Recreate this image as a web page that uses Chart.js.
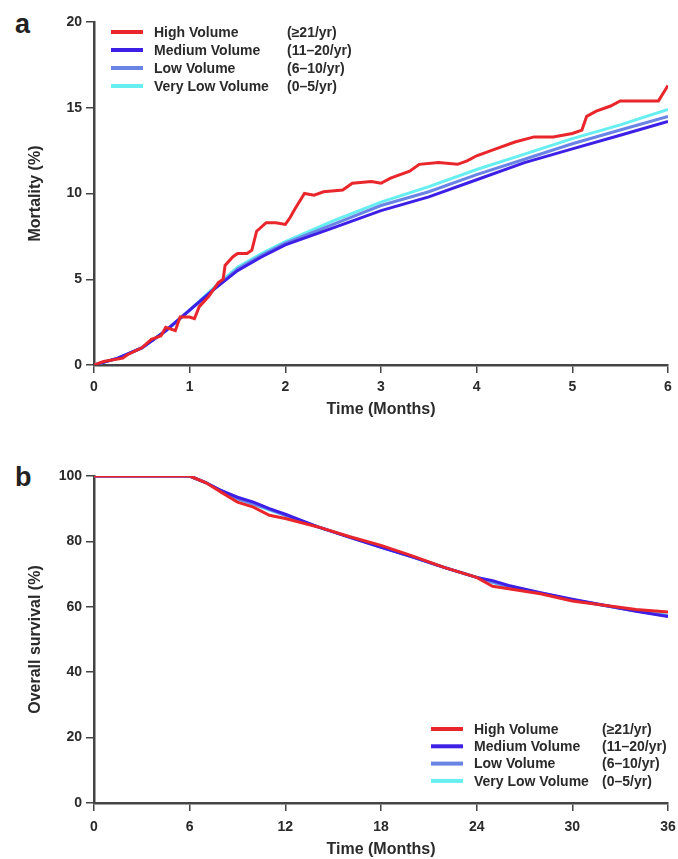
<!DOCTYPE html>
<html>
<head>
<meta charset="utf-8">
<script src="https://cdn.jsdelivr.net/npm/chart.js@4.4.1/dist/chart.umd.min.js"></script>
<style>
  html, body { margin: 0; padding: 0; background: #fff; }
  body { width: 678px; height: 859px; position: relative; overflow: hidden; font-family: "Liberation Sans", Arial, sans-serif; }
  .panel { position: absolute; left: 0; width: 678px; }
  .tag { position: absolute; font-weight: bold; font-size: 27px; line-height: 28px; color: #222; }
</style>
</head>
<body>
<div class="tag" style="left:15px;top:10px">a</div>
<div class="tag" style="left:15px;top:463px">b</div>
<div class="panel" style="top:0;height:420px"><canvas id="chartA"></canvas></div>
<div class="panel" style="top:440px;height:419px"><canvas id="chartB"></canvas></div>
<script>
/* ---------- data ---------- */
const seriesNames = ['High Volume', 'Medium Volume', 'Low Volume', 'Very Low Volume'];
const seriesRanges = ['(\u226521/yr)', '(11\u201320/yr)', '(6\u201310/yr)', '(0\u20135/yr)'];
const seriesColors = ['#e8262b', '#3d1fe6', '#6a84e6', '#66eef0'];

// panel a: cumulative mortality (%) vs months
const mortHighX = [0, 0.1, 0.3, 0.35, 0.5, 0.6, 0.7, 0.75, 0.85, 0.9, 1.0, 1.05, 1.1, 1.2, 1.3, 1.35, 1.37, 1.45, 1.5, 1.6, 1.65, 1.7, 1.8, 1.9, 2.0, 2.05, 2.1, 2.2, 2.3, 2.4, 2.6, 2.7, 2.9, 3.0, 3.1, 3.3, 3.4, 3.6, 3.8, 3.9, 4.0, 4.2, 4.4, 4.6, 4.8, 5.0, 5.1, 5.15, 5.25, 5.4, 5.5, 5.9, 6.0];
const mortHighY = [0, 0.2, 0.4, 0.6, 1.0, 1.5, 1.7, 2.2, 2.0, 2.8, 2.8, 2.7, 3.4, 4.0, 4.8, 5.0, 5.8, 6.3, 6.5, 6.5, 6.7, 7.8, 8.3, 8.3, 8.2, 8.6, 9.1, 10.0, 9.9, 10.1, 10.2, 10.6, 10.7, 10.6, 10.9, 11.3, 11.7, 11.8, 11.7, 11.9, 12.2, 12.6, 13.0, 13.3, 13.3, 13.5, 13.7, 14.5, 14.8, 15.1, 15.4, 15.4, 16.3];
const mortX = [0, 0.25, 0.5, 0.75, 1.0, 1.25, 1.5, 1.75, 2.0, 2.5, 3.0, 3.5, 4.0, 4.5, 5.0, 5.5, 6.0];
const mortMedium  = [0, 0.4, 1.0, 2.0, 3.2, 4.4, 5.5, 6.3, 7.0, 8.0, 9.0, 9.8, 10.8, 11.8, 12.6, 13.4, 14.2];
const mortLow     = [0, 0.4, 1.0, 2.0, 3.2, 4.4, 5.6, 6.4, 7.1, 8.2, 9.3, 10.1, 11.1, 12.0, 12.9, 13.7, 14.5];
const mortVeryLow = [0, 0.4, 1.0, 2.0, 3.2, 4.5, 5.7, 6.5, 7.2, 8.4, 9.5, 10.4, 11.4, 12.3, 13.2, 14.0, 14.9];

// panel b: overall survival (%) vs months
const survX = [0, 6, 7, 8, 9, 10, 11, 12, 14, 16, 18, 20, 22, 24, 25, 26, 28, 30, 32, 34, 36];
const survHigh    = [100, 100, 98, 95, 92, 90.5, 88, 87, 84.5, 81.5, 78.8, 75.5, 72, 69, 66.3, 65.5, 64, 61.8, 60.5, 59.2, 58.4];
const survMedium  = [100, 100, 98, 95.5, 93.5, 92, 90, 88.3, 84.5, 81.3, 78.2, 75.2, 72, 69, 68, 66.5, 64.3, 62.3, 60.5, 58.6, 57.0];
const survLow     = [100, 100, 98, 95.5, 93, 91.5, 89.8, 88, 84.5, 81.3, 78.3, 75.2, 72, 69, 67.6, 66.2, 64.2, 62.2, 60.4, 58.7, 57.2];
const survVeryLow = [100, 100, 98, 95.5, 93, 91.3, 89.6, 88, 84.5, 81.4, 78.4, 75.3, 72, 69, 67.4, 66, 64.1, 62.1, 60.4, 58.8, 57.4];

const mortTicks = { min: 0, max: 20, step: 5 };
const survTicks = { min: 0, max: 100, step: 20 };

/* ---------- helpers ---------- */
const FONT = '"Liberation Sans", Arial, sans-serif';
const AXIS = '#444';
const TEXT = '#2a2a2a';

function pts(xs, ys) { return xs.map((x, i) => ({ x, y: ys[i] })); }

function lineSet(i, data) {
  return {
    label: seriesNames[i],
    data,
    borderColor: seriesColors[i],
    borderWidth: 3,
    pointRadius: 0,
    tension: 0,
    fill: false,
    order: i
  };
}

// two-column legend drawn inside the plot
const sideLegend = {
  id: 'sideLegend',
  afterDraw(chart, args, opts) {
    const ctx = chart.ctx;
    ctx.save();
    ctx.font = 'bold 14px ' + FONT;
    ctx.textBaseline = 'middle';
    chart.data.datasets.forEach((ds, i) => {
      const y = opts.y + i * opts.row;
      ctx.strokeStyle = ds.borderColor;
      ctx.lineWidth = 4;
      ctx.beginPath();
      ctx.moveTo(opts.x, y);
      ctx.lineTo(opts.x + 32, y);
      ctx.stroke();
      ctx.fillStyle = TEXT;
      ctx.fillText(seriesNames[i], opts.x + 43, y + 1);
      ctx.fillText(seriesRanges[i], opts.x + opts.col, y + 1);
    });
    ctx.restore();
  }
};

function axisX(max, step, h, pad) {
  return {
    type: 'linear', min: 0, max,
    ticks: { stepSize: step, color: TEXT, font: { family: FONT, size: 14, weight: 'bold' }, padding: pad },
    grid: { drawOnChartArea: false, drawTicks: true, tickLength: 8, color: AXIS, lineWidth: 1.5 },
    border: { display: true, color: AXIS, width: 2.5 },
    title: { display: true, text: 'Time (Months)', color: TEXT, font: { family: FONT, size: 16, weight: 'bold' }, padding: 0 },
    // fixed height; let end labels overhang so the plot spans the same width in both panels
    afterFit: s => { s.height = h; s.paddingLeft = 0; s.paddingRight = 0; }
  };
}

function axisY(title, t) {
  return {
    min: t.min, max: t.max,
    ticks: { stepSize: t.step, color: TEXT, font: { family: FONT, size: 14, weight: 'bold' }, padding: 4 },
    grid: { drawOnChartArea: false, drawTicks: true, tickLength: 8, color: AXIS, lineWidth: 1.5 },
    border: { display: true, color: AXIS, width: 2.5 },
    title: { display: true, text: title, color: TEXT, font: { family: FONT, size: 16, weight: 'bold' }, padding: 0 },
    afterFit: s => { s.width = 68; s.paddingTop = 0; s.paddingBottom = 0; }
  };
}

function makeChart(id, datasets, xAxis, yAxis, pad, legendPos) {
  return new Chart(document.getElementById(id), {
    type: 'line',
    data: { datasets },
    options: {
      responsive: true,
      maintainAspectRatio: false,
      animation: false,
      layout: { padding: pad },
      plugins: { legend: { display: false }, tooltip: { enabled: false }, sideLegend: legendPos },
      scales: { x: xAxis, y: yAxis }
    },
    plugins: [sideLegend]
  });
}

/* ---------- charts ---------- */
makeChart('chartA', [
  lineSet(0, pts(mortHighX, mortHighY)),
  lineSet(1, pts(mortX, mortMedium)),
  lineSet(2, pts(mortX, mortLow)),
  lineSet(3, pts(mortX, mortVeryLow))
],
  axisX(6, 1, 54, 6),
  axisY('Mortality (%)', mortTicks),
  { top: 22, right: 10, bottom: 1, left: 26 },
  { x: 111, y: 32, row: 18, col: 176 });

makeChart('chartB', [
  lineSet(0, pts(survX, survHigh)),
  lineSet(1, pts(survX, survMedium)),
  lineSet(2, pts(survX, survLow)),
  lineSet(3, pts(survX, survVeryLow))
],
  axisX(36, 6, 56, 8),
  axisY('Overall survival (%)', survTicks),
  { top: 36, right: 10, bottom: 0, left: 26 },
  { x: 431, y: 289, row: 17.3, col: 171 });
</script>
</body>
</html>
